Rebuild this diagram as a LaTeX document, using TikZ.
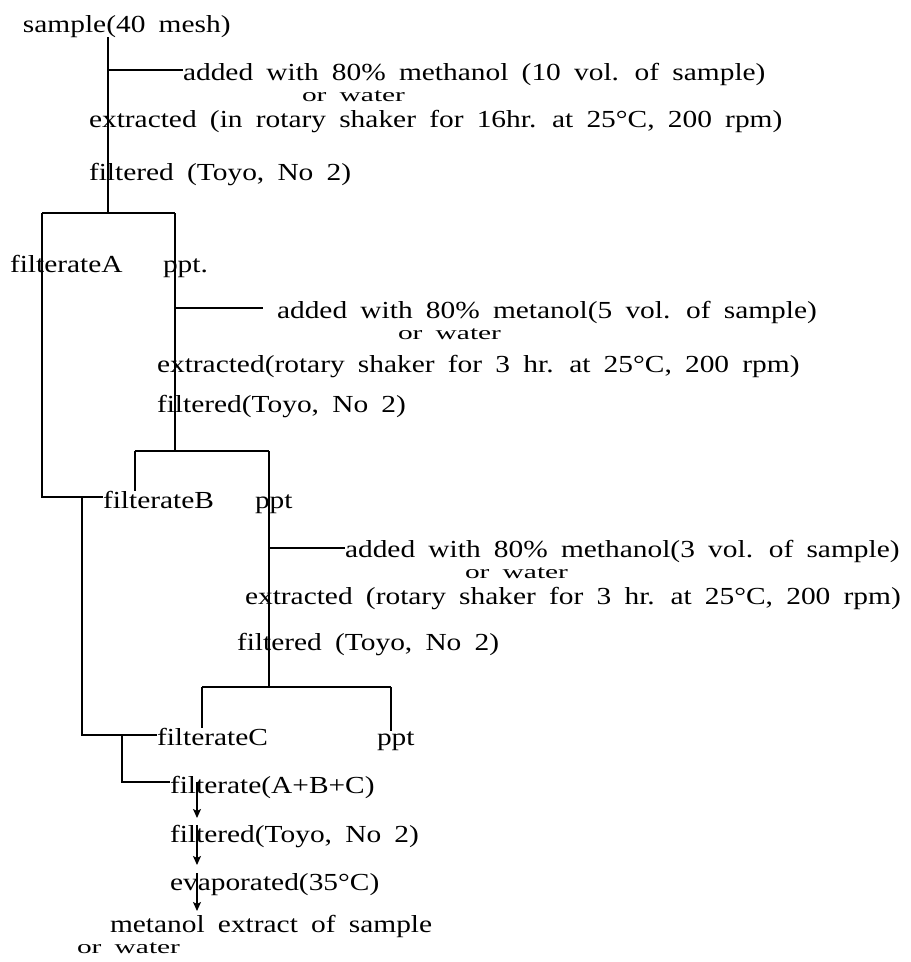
\documentclass[tikz,border=0pt]{standalone}
\usepackage{graphicx}
\usepackage{fontspec}
\setmainfont{Liberation Serif}[FakeStretch=1.2,WordSpace=1.8]
\usetikzlibrary{arrows.meta}

\begin{document}
\begin{tikzpicture}[
    x=1pt,y=-1pt,
    flowTx/.style={anchor=base west,inner sep=0pt,outer sep=0pt,font=\fontsize{24.5}{24.5}\selectfont},
    flowLn/.style={line width=1.7pt},
    flowArr/.style={-{Stealth[length=9pt,width=8pt,inset=2pt]},line width=1.2pt},
]
\useasboundingbox (0,0) rectangle (911,962);
\node[flowTx] (smp)  at (23,32)  {sample(40 mesh)};
\node[flowTx] (add1) at (183,80) {added with 80\% methanol (10 vol. of sample)};
\node[flowTx] (orw1) at (302,101) {\scalebox{1}[0.78]{or water}};
\node[flowTx] (ext1) at (89,127) {extracted (in rotary shaker for 16hr. at 25°C, 200 rpm)};
\node[flowTx] (fil1) at (89,180) {filtered (Toyo, No 2)};
\node[flowTx] (flA)  at (10,272) {filterateA};
\node[flowTx] (ppA)  at (163,272) {ppt.};
\node[flowTx] (add2) at (277,318) {added with 80\% metanol(5 vol. of sample)};
\node[flowTx] (orw2) at (398,339) {\scalebox{1}[0.78]{or water}};
\node[flowTx] (ext2) at (157,372) {extracted(rotary shaker for 3 hr. at 25°C, 200 rpm)};
\node[flowTx] (fil2) at (157,412) {filtered(Toyo, No 2)};
\node[flowTx] (flB)  at (103,508) {filterateB};
\node[flowTx] (ppB)  at (255,508) {ppt};
\node[flowTx] (add3) at (345,557) {added with 80\% methanol(3 vol. of sample)};
\node[flowTx] (orw3) at (465,578) {\scalebox{1}[0.78]{or water}};
\node[flowTx] (ext3) at (245,604) {extracted (rotary shaker for 3 hr. at 25°C, 200 rpm)};
\node[flowTx] (fil3) at (237,650) {filtered (Toyo, No 2)};
\node[flowTx] (flC)  at (157,745) {filterateC};
\node[flowTx] (ppC)  at (377,745) {ppt};
\node[flowTx] (abc)  at (170,793) {filterate(A+B+C)};
\node[flowTx] (fil4) at (170,842) {filtered(Toyo, No 2)};
\node[flowTx] (evp)  at (170,890) {evaporated(35°C)};
\node[flowTx] (mex)  at (110,932) {metanol extract of sample};
\node[flowTx] (orw4) at (77,953) {\scalebox{1}[0.78]{or water}};
% split points and columns
\coordinate (sp1) at (108,213);
\coordinate (sp2) at (175,451);
\coordinate (sp3) at (269,687);
\coordinate (bA) at (42,213);
\coordinate (bP) at (175,213);
\coordinate (bB) at (135,451);
\coordinate (bQ) at (269,451);
\coordinate (bC) at (202,687);
\coordinate (bR) at (391,687);
\coordinate (cB) at (82,0);
\coordinate (cC) at (122,0);
\coordinate (cA) at (197,0);
\coordinate (ad1) at ([yshift=10pt]add1.base west);
\coordinate (ad2) at ([yshift=10pt]add2.base west);
\coordinate (ad3) at ([yshift=9pt]add3.base west);
\coordinate (lnB) at ([yshift=11pt]flB.base west);
\coordinate (lnC) at ([yshift=10pt]flC.base west);
\coordinate (lnD) at ([yshift=11pt]abc.base west);
\coordinate (t4) at ([yshift=24pt]fil4.base west);
\coordinate (t5) at ([yshift=25pt]evp.base west);
\coordinate (t6) at ([yshift=21pt]mex.base west);
% first extraction
\draw[flowLn] (smp.south -| sp1) -- (sp1);
\draw[flowLn] (ad1 -| sp1) -- (ad1);
\draw[flowLn] (bA) -- (bP);
\draw[flowLn] (bA) |- (lnB);
\draw[flowLn] (bP) -- (sp2);
% second extraction
\draw[flowLn] (ad2 -| sp2) -- ([xshift=-14pt]ad2);
\draw[flowLn] (bB) -- (bQ);
\draw[flowLn] (bB) -- (bB |- flB.north);
\draw[flowLn] (bQ) -- (sp3);
\draw[flowLn] (lnB -| cB) |- (lnC);
% third extraction
\draw[flowLn] (ad3 -| sp3) -- (ad3);
\draw[flowLn] (bC) -- (bR);
\draw[flowLn] (bC) -- (bC |- flC.north);
\draw[flowLn] (bR) -- (bR |- ppC.north);
\draw[flowLn] (lnC -| cC) |- (lnD);
% combined filterate
\draw[flowArr] (lnD -| cA) -- (t4 -| cA);
\draw[flowArr] (fil4.north -| cA) -- (t5 -| cA);
\draw[flowArr] (evp.north -| cA) -- (t6 -| cA);
\end{tikzpicture}
\end{document}
